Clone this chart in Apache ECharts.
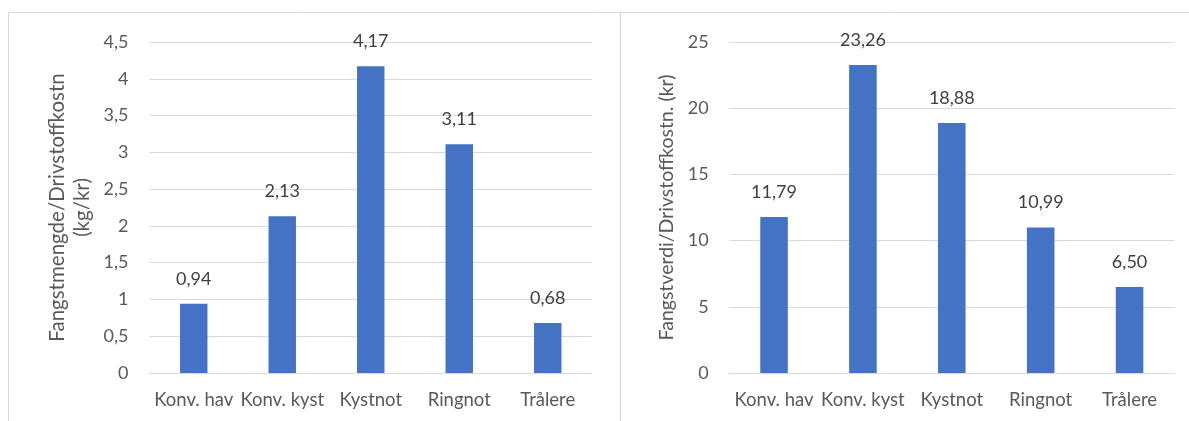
<!DOCTYPE html>
<html><head><meta charset="utf-8">
<script src="https://cdn.jsdelivr.net/npm/echarts@6/dist/echarts.min.js"></script>
<style>html,body{margin:0;padding:0;background:#fff}#c{width:1189px;height:421px}</style>
</head><body><div id="c"></div>
<script>
const categories = ['Konv. hav', 'Konv. kyst', 'Kystnot', 'Ringnot', 'Trålere'];
const kgPerKr = [0.94, 2.13, 4.17, 3.11, 0.68];
const krPerKr = [11.79, 23.26, 18.88, 10.99, 6.50];
const leftTitle = 'Fangstmengde/Drivstoffkostn\n(kg/kr)';
const rightTitle = 'Fangstverdi/Drivstoffkostn. (kr)';

const FONT = 'Lato';
const comma = v => String(v).replace('.', ',');
const fmt2 = p => p.value.toFixed(2).replace('.', ',');
const chart = echarts.init(document.getElementById('c'), null, {renderer: 'canvas'});
const xAx = idx => ({
  type: 'category', gridIndex: idx, data: categories,
  axisLine: {lineStyle: {color: '#D9D9D9', width: 1}},
  axisTick: {show: false},
  axisLabel: {color: '#595959', fontFamily: FONT, fontSize: 18.5, margin: 18, interval: 0}
});
const yAx = (idx, max, interval, name, gap, nameSize) => ({
  type: 'value', gridIndex: idx, min: 0, max: max, interval: interval,
  name: name, nameLocation: 'middle', nameGap: gap, nameRotate: 90,
  nameTextStyle: {color: '#595959', fontFamily: FONT, fontSize: nameSize, lineHeight: 25},
  axisLine: {show: false}, axisTick: {show: false},
  axisLabel: {color: '#595959', fontFamily: FONT, fontSize: 18, margin: 21, formatter: v => comma(v)},
  splitLine: {lineStyle: {color: '#D9D9D9', width: 1}}
});
const bar = idx => ({
  type: 'bar', xAxisIndex: idx, yAxisIndex: idx,
  data: idx === 0 ? kgPerKr : krPerKr,
  barWidth: '31%',
  itemStyle: {color: '#4472C4'},
  label: {show: true, position: 'top', distance: 16, color: '#404040', fontFamily: FONT, fontSize: 18, formatter: fmt2}
});
chart.setOption({
  animation: false,
  grid: [
    {left: 149.5, right: 597, top: 42, bottom: 48},
    {left: 729.6, right: 15, top: 42, bottom: 48}
  ],
  xAxis: [xAx(0), xAx(1)],
  yAxis: [yAx(0, 4.5, 0.5, leftTitle, 55, 20.5), yAx(1, 25, 5, rightTitle, 50, 19.5)],
  series: [bar(0), bar(1)],
  graphic: [
    {type: 'line', shape: {x1: 8, y1: 12.5, x2: 1189, y2: 12.5}, style: {stroke: '#D9D9D9', lineWidth: 1}},
    {type: 'line', shape: {x1: 8.5, y1: 12, x2: 8.5, y2: 421}, style: {stroke: '#D9D9D9', lineWidth: 1}},
    {type: 'line', shape: {x1: 620.5, y1: 12, x2: 620.5, y2: 421}, style: {stroke: '#D9D9D9', lineWidth: 1}}
  ]
});
</script></body></html>
